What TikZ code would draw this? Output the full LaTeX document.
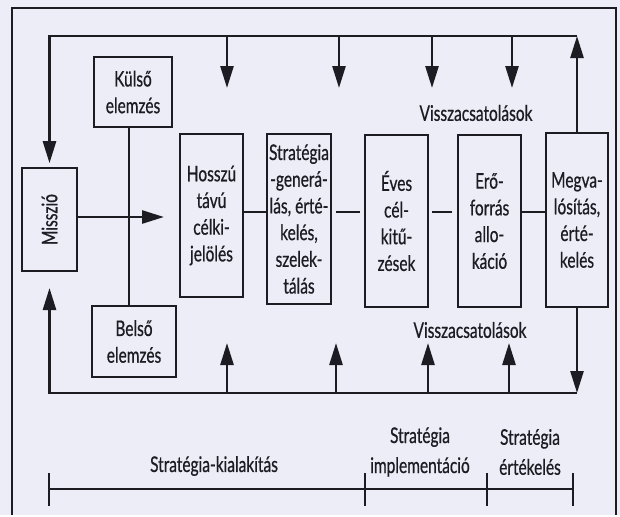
\documentclass[tikz,border=0pt]{standalone}
\usepackage{fontspec}
\setmainfont[FakeStretch=0.72,FakeBold=0.6]{Lato}
\usetikzlibrary{arrows.meta,positioning,calc}
\definecolor{paper}{RGB}{236,237,246}
\definecolor{ink}{RGB}{28,28,34}
\newcommand\diagfont{\fontsize{21.5}{26.7}\selectfont}
\begin{document}
\begin{tikzpicture}[x=1pt,y=-1pt,
  box/.style={rectangle,draw=ink,line width=1.6pt,fill=paper,align=center,
              inner sep=0pt,font=\diagfont,text=ink},
  fb/.style={draw=ink,line width=2.6pt},
  tip/.style={-{Triangle[length=22pt,width=13pt]}},
  lbl/.style={align=center,inner sep=0pt,text=ink,font=\fontsize{21.5}{30}\selectfont}]
  \fill[paper] (0,0) rectangle (620,515);
  \draw[ink,line width=2.8pt] (12,515) -- (12,8) -- (616,8) -- (616,515);
  \node (missio) [box,minimum width=55pt,minimum height=103pt] at (49.5,219.5) {\rotatebox{90}{Misszió}};
  \node (kulso) [box,minimum width=78pt,minimum height=70pt] at (133,92) {Külső\\elemzés};
  \node (belso) [box,minimum width=84pt,minimum height=71pt] at (134,341.5) {Belső\\elemzés};
  \node (hosszu) [box,minimum width=63pt,minimum height=163pt] at (211.5,215.5) {Hosszú\\távú\\célki-\\jelölés};
  \node (strat) [box,minimum width=64pt,minimum height=170pt] at (299,219) {Stratégia\\-generá-\\lás, érté-\\kelés,\\szelek-\\tálás};
  \node (eves) [box,minimum width=63pt,minimum height=172pt] at (396.5,221) {Éves\\cél-\\kitű-\\zések};
  \node (ero) [box,minimum width=63pt,minimum height=172pt] at (489.5,221) {Erő-\\forrás\\allo-\\káció};
  \node (megva) [box,minimum width=62pt,minimum height=174pt] at (577,220) {Megva-\\lósítás,\\érté-\\kelés};
  \coordinate (mid) at (0,212);
  \coordinate (vx) at (129,0);
  \coordinate (aim) at (164,217);
  \coordinate (top) at (0,36);
  \coordinate (bot) at (0,393);
  \coordinate (misin) at (49.5,288);
  \draw[fb] (hosszu.east |- mid) -- (strat.west |- mid);
  \draw[fb,shorten <=4pt,shorten >=4pt] (strat.east |- mid) -- (eves.west |- mid);
  \draw[fb,shorten <=3pt,shorten >=5pt] (eves.east |- mid) -- (ero.west |- mid);
  \draw[fb] (ero.east |- mid) -- (megva.west |- mid);
  \draw[fb] (kulso.south -| vx) -- (belso.north -| vx);
  \draw[fb,tip] (missio.east |- aim) -- (aim);
  \draw[fb,tip] (megva.north) -- (megva.north |- top);
  \draw[fb,tip,shorten >=4pt] (megva.north |- top) -- (missio.north |- top) -- (missio.north);
  \draw[fb,tip] (megva.south) -- (megva.south |- bot);
  \draw[fb,tip] (megva.south |- bot) -- (missio.south |- bot) -- (misin);
  \foreach \x [count=\i] in {227,339,432,512}{
    \coordinate (d\i) at (\x,88);
    \draw[fb,tip] (d\i |- top) -- (d\i);
  }
  \foreach \x [count=\i] in {227,336,428,509}{
    \coordinate (u\i) at (\x,343);
    \draw[fb,tip] (u\i |- bot) -- (u\i);
  }
  \node (fbtop) [lbl] at (476,113) {Visszacsatolások};
  \node (fbbot) [lbl] at (470,330) {Visszacsatolások};
  \coordinate (t0) at (49,489);
  \coordinate (t1) at (365,489);
  \coordinate (t2) at (487,489);
  \coordinate (t3) at (573,489);
  \draw[ink,line width=2pt] (t0) -- (t3);
  \foreach \t in {t0,t1,t2,t3}{
    \draw[ink,line width=2pt] ([yshift=16pt]\t) -- ([yshift=-17pt]\t);
  }
  \node (form) [lbl] at (214,466) {Stratégia-kialakítás};
  \node (impl) [lbl] at (420,452) {Stratégia\\implementáció};
  \node (eval) [lbl] at (530,452) {Stratégia\\értékelés};
\end{tikzpicture}
\end{document}
